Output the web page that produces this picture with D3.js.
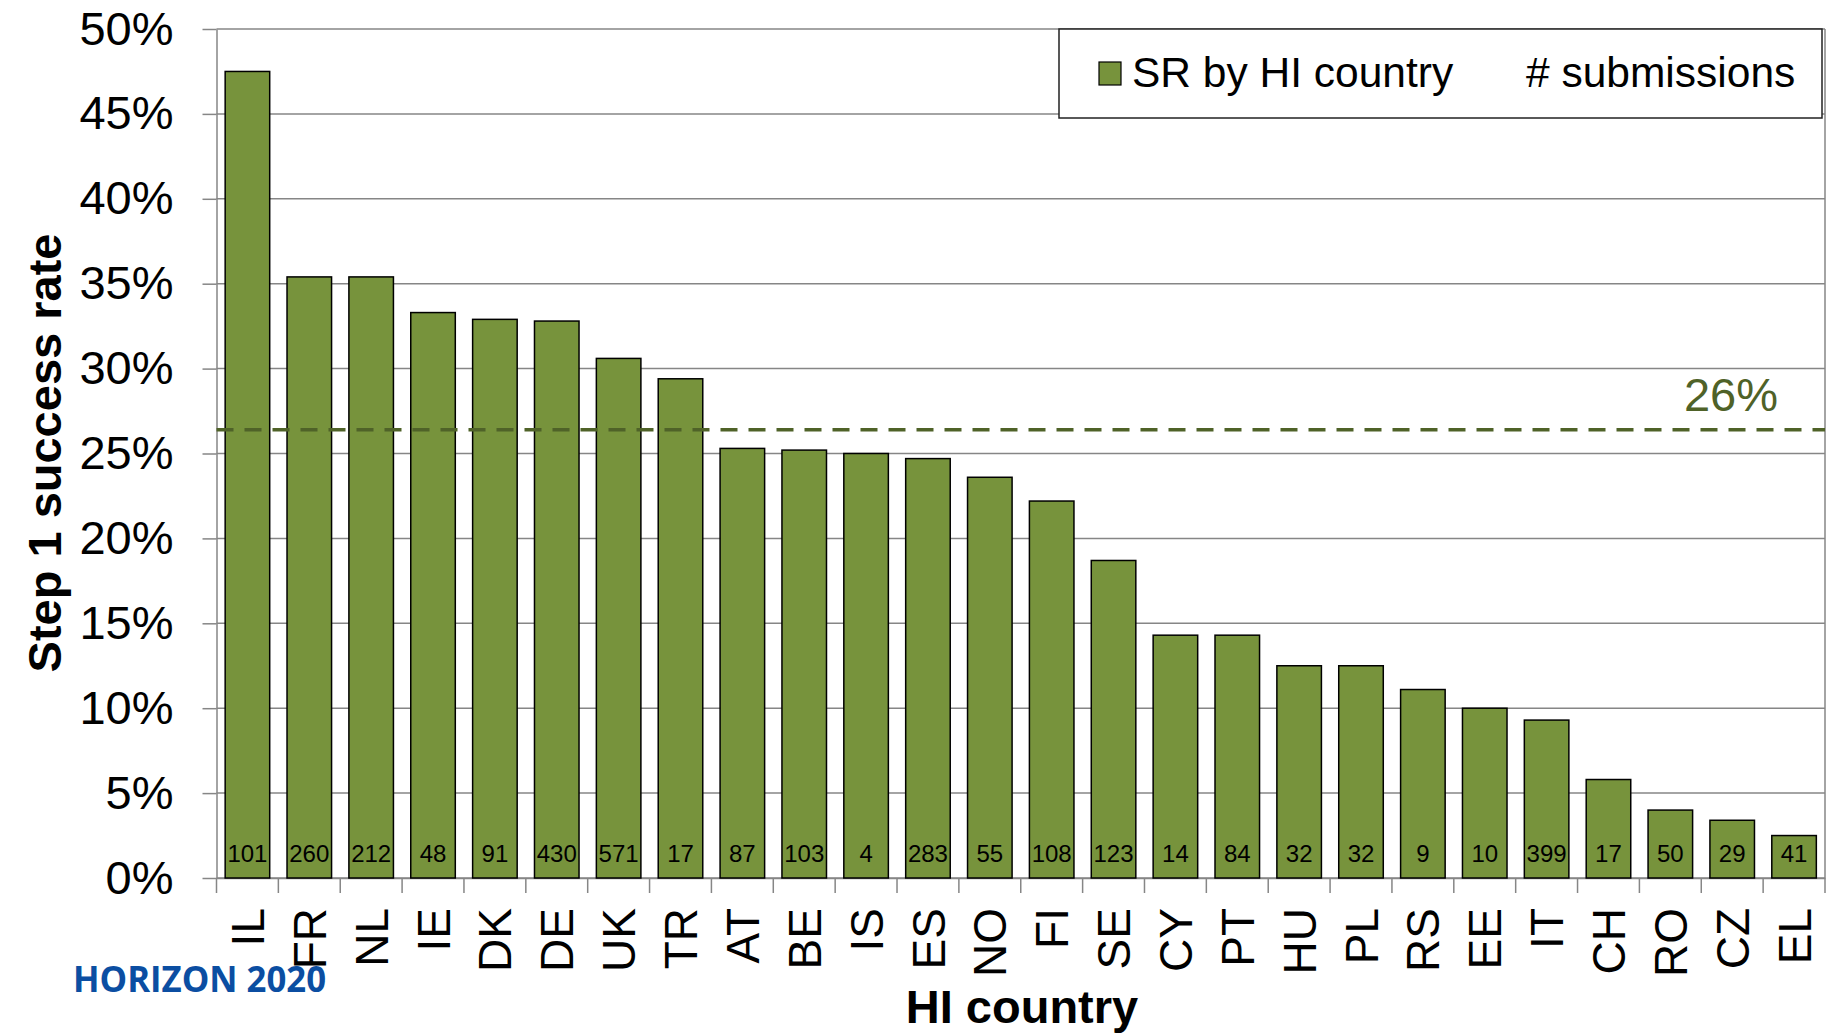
<!DOCTYPE html>
<html>
<head>
<meta charset="utf-8">
<script src="https://cdn.jsdelivr.net/npm/d3@7"></script>
<style>
  body { margin: 0; background: #fff; }
  text { font-family: "Liberation Sans", Arial, sans-serif; }
</style>
</head>
<body>
<div class="chart"></div>
<script>
// step 1 success rate by HI country
const countries = ['IL','FR','NL','IE','DK','DE','UK','TR','AT','BE','IS','ES','NO','FI','SE','CY','PT','HU','PL','RS','EE','IT','CH','RO','CZ','EL'];
const successRate = [0.475,0.354,0.354,0.333,0.329,0.328,0.306,0.294,0.253,0.252,0.250,0.247,0.236,0.222,0.187,0.143,0.143,0.125,0.125,0.111,0.100,0.093,0.058,0.040,0.034,0.025];
const submissions = [101,260,212,48,91,430,571,17,87,103,4,283,55,108,123,14,84,32,32,9,10,399,17,50,29,41];
const yTicks = [0,0.05,0.1,0.15,0.2,0.25,0.3,0.35,0.4,0.45,0.5];
const avgRate = 0.264;
const avgLabel = '26%';

const W = 1828, H = 1034;
const margin = ({top: 29, right: 3, bottom: 156, left: 216.5});
const width = W - margin.left - margin.right,
    height = H - margin.top - margin.bottom;

const barColor = '#77933c';
const gridColor = '#868686';
const avgColor = '#4f6228';

const svg = d3.select(".chart").append("svg")
    .attr("width", W)
    .attr("height", H);

const g = svg.append("g")
    .attr("transform", "translate(" + margin.left + "," + margin.top + ")");

const xScale = d3.scaleBand()
    .domain(countries)
    .range([0, width])
    .paddingInner(0.28)
    .paddingOuter(0.14);

const yScale = d3.scaleLinear()
    .domain([0, 0.5])
    .range([height, 0]);

// gridlines
g.append("g")
    .selectAll("line")
    .data(yTicks)
    .enter()
    .append("line")
    .attr("x1", 0)
    .attr("x2", width)
    .attr("y1", d => yScale(d))
    .attr("y2", d => yScale(d))
    .attr("stroke", gridColor)
    .attr("stroke-width", 1.5);

// right border of plot area
g.append("line")
    .attr("x1", width).attr("x2", width)
    .attr("y1", 0).attr("y2", height)
    .attr("stroke", gridColor)
    .attr("stroke-width", 1.5);

// y axis
const yAxis = d3.axisLeft(yScale)
    .tickValues(yTicks)
    .tickSize(14)
    .tickSizeOuter(0)
    .tickPadding(29)
    .tickFormat(d3.format(".0%"));

const yG = g.append("g")
    .attr("class", "axis y-axis")
    .call(yAxis);
yG.selectAll("line, path").attr("stroke", gridColor).attr("stroke-width", 1.5);
yG.selectAll("text")
    .attr("font-size", 47)
    .attr("fill", "#000")
    .attr("font-family", "Liberation Sans, Arial, sans-serif");

// x axis (labels only, ticks drawn at the category boundaries)
const xAxis = d3.axisBottom(xScale)
    .tickSize(0)
    .tickSizeOuter(0);

const xG = g.append("g")
    .attr("class", "axis x-axis")
    .attr("transform", "translate(0," + height + ")")
    .call(xAxis);
xG.select(".domain").attr("stroke", gridColor).attr("stroke-width", 1.5);
xG.selectAll("text")
    .attr("font-size", 46)
    .attr("fill", "#000")
    .attr("font-family", "Liberation Sans, Arial, sans-serif")
    .attr("text-anchor", "end")
    .attr("transform", "translate(0,30) rotate(-90)")
    .attr("x", 0)
    .attr("y", 0)
    .attr("dy", "0.36em");

const step = xScale.step();
const bounds = countries.map(c => xScale(c) - step * 0.14).concat([width]);
g.append("g")
    .selectAll("line")
    .data(bounds)
    .enter()
    .append("line")
    .attr("x1", d => d).attr("x2", d => d)
    .attr("y1", height).attr("y2", height + 15)
    .attr("stroke", gridColor)
    .attr("stroke-width", 1.5);

// bars
g.selectAll(".bar")
    .data(countries)
    .enter()
    .append("rect")
    .attr("class", "bar")
    .attr("x", d => xScale(d))
    .attr("width", xScale.bandwidth())
    .attr("y", (d, i) => yScale(successRate[i]))
    .attr("height", (d, i) => height - yScale(successRate[i]))
    .attr("fill", barColor)
    .attr("stroke", "#000")
    .attr("stroke-width", 1.5);

// submissions count inside bars
g.selectAll(".count")
    .data(countries)
    .enter()
    .append("text")
    .attr("class", "count")
    .attr("x", d => xScale(d) + xScale.bandwidth() / 2)
    .attr("y", height - 16)
    .attr("text-anchor", "middle")
    .attr("font-size", 24)
    .attr("fill", "#000")
    .text((d, i) => submissions[i]);

// average line
g.append("line")
    .attr("x1", 0)
    .attr("x2", width)
    .attr("y1", yScale(avgRate))
    .attr("y2", yScale(avgRate))
    .attr("stroke", avgColor)
    .attr("stroke-width", 3.5)
    .attr("stroke-dasharray", "17,11");

g.append("text")
    .attr("x", 1778 - margin.left)
    .attr("y", yScale(avgRate) - 19)
    .attr("text-anchor", "end")
    .attr("font-size", 47)
    .attr("fill", avgColor)
    .text(avgLabel);

// legend
const legend = svg.append("g").attr("transform", "translate(1059,29)");
legend.append("rect")
    .attr("width", 763)
    .attr("height", 89)
    .attr("fill", "#fff")
    .attr("stroke", "#222")
    .attr("stroke-width", 1.5);
legend.append("rect")
    .attr("x", 40).attr("y", 33)
    .attr("width", 22).attr("height", 23)
    .attr("fill", barColor)
    .attr("stroke", "#000")
    .attr("stroke-width", 1.2);
legend.append("text")
    .attr("x", 73).attr("y", 58)
    .attr("font-size", 42.5)
    .text("SR by HI country");
legend.append("text")
    .attr("x", 467).attr("y", 58)
    .attr("font-size", 42.5)
    .text("# submissions");

// axis titles
svg.append("text")
    .attr("transform", "translate(61,453) rotate(-90)")
    .attr("text-anchor", "middle")
    .attr("font-size", 47)
    .attr("font-weight", "bold")
    .text("Step 1 success rate");

svg.append("text")
    .attr("x", 1022)
    .attr("y", 1023)
    .attr("text-anchor", "middle")
    .attr("font-size", 47)
    .attr("font-weight", "bold")
    .text("HI country");

// logo text
svg.append("text")
    .attr("x", 73)
    .attr("y", 992)
    .attr("font-size", 35)
    .attr("font-weight", 700)
    .attr("fill", "#0b4ea2")
    .attr("textLength", 253)
    .attr("lengthAdjust", "spacingAndGlyphs")
    .style("font-family", "'Open Sans', sans-serif")
    .text("HORIZON 2020");
</script>
</body>
</html>
